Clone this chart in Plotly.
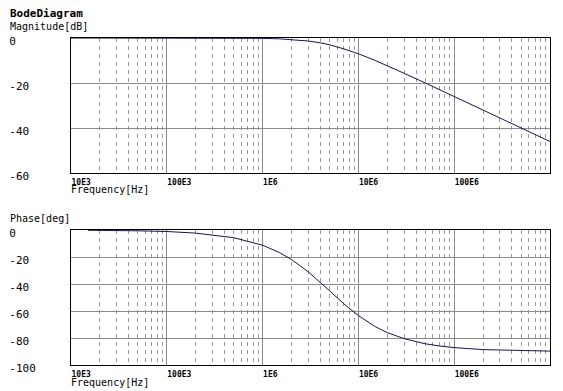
import plotly.graph_objects as go
from plotly.subplots import make_subplots

# ---- data ----
freq_mag = [1e4, 2e4, 5e4, 1e5, 2e5, 5e5, 1e6, 1.5e6, 2e6, 3e6, 4e6, 5e6, 7e6,
            1e7, 1.5e7, 2e7, 3e7, 5e7, 7e7, 1e8, 2e8, 3e8, 5e8, 7e8, 1e9]
magnitude_db = [0, 0, 0, 0, -0.01, -0.04, -0.17, -0.37, -0.64, -1.34, -2.15, -3.0, -4.8,
                -7.0, -10.0, -12.3, -15.7, -20.0, -22.9, -26.0, -32.0, -35.6, -40.0, -42.9, -46.0]

freq_ph = [1.5e4, 2e4, 5e4, 1e5, 2e5, 5e5, 1e6, 1.5e6, 2e6, 3e6, 4e6, 5e6, 7e6,
           1e7, 1.5e7, 2e7, 3e7, 5e7, 7e7, 1e8, 2e8, 3e8, 5e8, 7e8, 1e9]
phase_deg = [-0.2, -0.2, -0.6, -1.1, -2.3, -5.7, -11.3, -16.7, -21.8, -31.0, -38.7, -45.0, -54.5,
             -63.4, -71.6, -76.0, -80.5, -84.3, -85.9, -87.1, -88.6, -89.0, -89.4, -89.6, -89.7]

x_tickvals = [1e4, 1e5, 1e6, 1e7, 1e8]
x_ticktext = ["10E3", "100E3", "1E6", "10E6", "100E6"]
mag_ticks = [0, -20, -40, -60]
ph_ticks = [0, -20, -40, -60, -80, -100]

NB = "\u00a0"
def pad(v):
    s = str(v)
    return s + NB * (4 - len(s))

MONO = "DejaVu Sans Mono"
LINE = "#14145e"

fig = make_subplots(rows=2, cols=1)
fig.add_trace(go.Scatter(x=freq_mag, y=magnitude_db, mode="lines",
                         line=dict(color=LINE, width=1), showlegend=False), row=1, col=1)
fig.add_trace(go.Scatter(x=freq_ph, y=phase_deg, mode="lines",
                         line=dict(color=LINE, width=1), showlegend=False), row=2, col=1)

xcommon = dict(type="log", range=[4, 9], tickvals=x_tickvals, ticktext=x_ticktext,
               ticklabelposition="outside right", ticks="", automargin=False,
               tickfont=dict(family=MONO, size=8, color="#000", weight="bold"),
               ticklabelstandoff=1,
               showgrid=True, gridcolor="#8c8c8c", gridwidth=1,
               minor=dict(dtick="D1", showgrid=True, gridcolor="#9a9a9a", griddash="4px,4px", gridwidth=1),
               showline=True, linecolor="#000", linewidth=1, mirror=True, zeroline=False)
fig.update_layout(xaxis=dict(domain=[0, 1], anchor="y", **xcommon),
                  xaxis2=dict(domain=[0, 1], anchor="y2", **xcommon))

ycommon = dict(showgrid=True, gridcolor="#8c8c8c", gridwidth=1, ticks="", automargin=False,
               tickfont=dict(family=MONO, size=11, color="#000"), ticklabelstandoff=32,
               ticklabelshift=3,
               showline=True, linecolor="#000", linewidth=1, mirror=True, zeroline=False)

# window-pixel geometry (page body adds an 8px offset)
OFF = 8
W, H = 563 - OFF, 391 - OFF
X0, X1 = 71, 550          # plot left/right in window px
TOP1, BOT1 = 38, 173      # magnitude panel
TOP2, BOT2 = 230, 365     # phase panel
L, R = X0 - OFF, W - (X1 - OFF)
T, B = TOP1 - OFF, H - (BOT2 - OFF)
pw, ph = W - L - R, H - T - B

def px(xw):
    return (xw - OFF - L) / pw
def py(yw):
    return 1 - (yw - OFF - T) / ph

fig.update_layout(
    yaxis=dict(domain=[py(BOT1), 1], range=[-60, 0], tickvals=mag_ticks,
               ticktext=[pad(v) for v in mag_ticks], **ycommon),
    yaxis2=dict(domain=[0, py(TOP2)], range=[-100, 0], tickvals=ph_ticks,
                ticktext=[pad(v) for v in ph_ticks], **ycommon),
)

ann = []
def add(text, x, y, size=10, bold=False):
    ann.append(dict(text=("<b>%s</b>" % text) if bold else text, x=px(x), y=py(y),
                    xref="paper", yref="paper", xanchor="left", yanchor="middle",
                    showarrow=False, font=dict(family=MONO, size=size, color="#000")))

add("BodeDiagram", 8, 13, size=11, bold=True)
add("Magnitude[dB]", 8, 26, size=10)
add("Frequency[Hz]", 69, 190, size=10)
add("Phase[deg]", 8, 218, size=10)
add("Frequency[Hz]", 69, 383, size=10)

fig.update_layout(width=W, height=H, margin=dict(l=L, r=R, t=T, b=B),
                  paper_bgcolor="white", plot_bgcolor="white", annotations=ann)

fig.write_html("out.html")
